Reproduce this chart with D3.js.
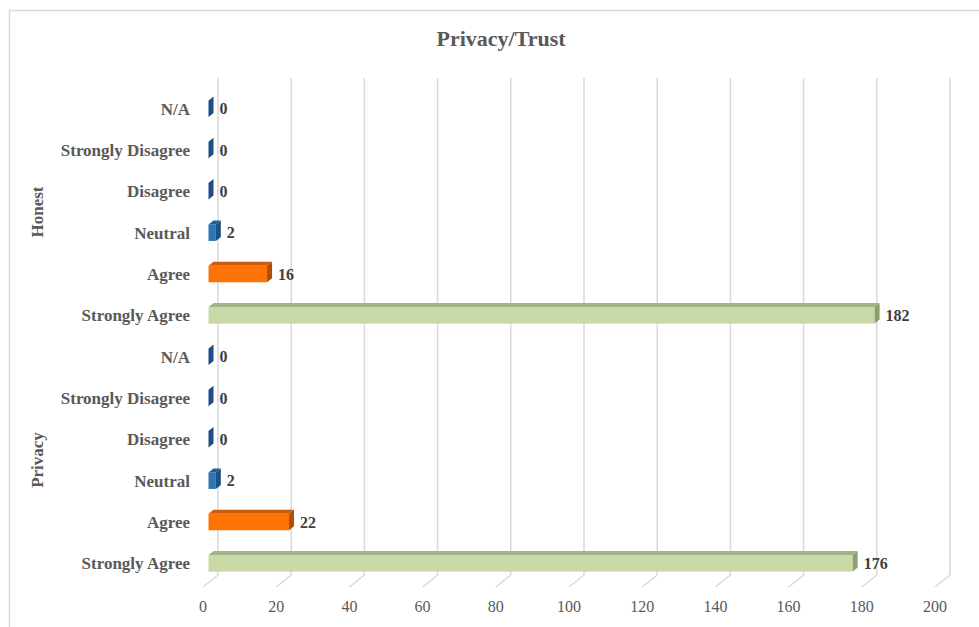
<!DOCTYPE html>
<html>
<head>
<meta charset="utf-8">
<script src="https://cdn.jsdelivr.net/npm/d3@7"></script>
<style>
  body { margin: 0; background: #fff; }
  text { font-family: "Liberation Serif", "Times New Roman", serif; }
</style>
</head>
<body>
<svg id="chart" width="979" height="627"></svg>
<script>
// answers, bottom to top within each group
const answers = ["Strongly Agree", "Agree", "Neutral", "Disagree", "Strongly Disagree", "N/A"];
const groups = ["Honest", "Privacy"]; // top group first
const honestCounts = [182, 16, 2, 0, 0, 0];
const privacyCounts = [176, 22, 2, 0, 0, 0];
const xTicks = [0, 20, 40, 60, 80, 100, 120, 140, 160, 180, 200];

// front / top / side colour per answer
const palette = {
    "Strongly Agree": ["#c8d8a6", "#a2b386", "#8d9e70"],
    "Agree": ["#fd7305", "#c95b0c", "#b14f09"],
    "Neutral": ["#2e75b6", "#215f99", "#1b4f82"],
    "Disagree": ["#1f4e85", "#1a4272", "#173d6b"],
    "Strongly Disagree": ["#1f4e85", "#1a4272", "#173d6b"],
    "N/A": ["#1f4e85", "#1a4272", "#173d6b"]
};

const counts = {Honest: honestCounts, Privacy: privacyCounts};
const rows = [];
groups.forEach(g => {
    answers.slice().reverse().forEach(a => {
        rows.push({key: g + "|" + a, group: g, answer: a, value: counts[g][answers.indexOf(a)]});
    });
});

const svg = d3.select("#chart");

// light border of the chart area
svg.append("rect")
    .attr("x", 9.5).attr("y", 10.5)
    .attr("width", 990).attr("height", 640)
    .attr("fill", "none")
    .attr("stroke", "#d9d9d9")
    .attr("stroke-width", 1.5);

const x = d3.scaleLinear().domain([0, 200]).range([203, 935]);
const y = d3.scaleBand().domain(rows.map(d => d.key)).range([88, 584])
    .paddingInner(0.6).paddingOuter(0.3);

// depth of the floor and of the bars
const floorDx = 15, floorDy = 12, frontY = 587, gridTop = 78;
const barOff = 5.5, bdx = 5, bdy = 4;

// back wall gridlines and floor ticks
const grid = svg.append("g");
grid.selectAll("line.v")
    .data(xTicks)
    .join("line")
    .attr("class", "v")
    .attr("x1", d => x(d) + floorDx).attr("x2", d => x(d) + floorDx)
    .attr("y1", gridTop).attr("y2", frontY - floorDy)
    .attr("stroke", "#d9d9d9").attr("stroke-width", 1.5);
grid.selectAll("line.f")
    .data(xTicks)
    .join("line")
    .attr("class", "f")
    .attr("x1", d => x(d)).attr("x2", d => x(d) + floorDx)
    .attr("y1", frontY).attr("y2", frontY - floorDy)
    .attr("stroke", "#d9d9d9").attr("stroke-width", 1.5);

svg.append("g").selectAll("text")
    .data(xTicks)
    .join("text")
    .attr("x", d => x(d))
    .attr("y", 612)
    .attr("text-anchor", "middle")
    .attr("font-size", 16)
    .attr("fill", "#595959")
    .text(d => d);

// 3d bars
const bars = svg.append("g").selectAll("g")
    .data(rows)
    .join("g");

bars.each(function(d) {
    const g = d3.select(this);
    const x0 = x(0) + barOff, x1 = x(d.value) + barOff;
    const y0 = y(d.key), h = y.bandwidth();
    const [cFront, cTop, cSide] = palette[d.answer];
    if (d.value > 0) {
        g.append("path")
            .attr("d", `M${x0},${y0}L${x0 + bdx},${y0 - bdy}H${x1 + bdx}L${x1},${y0}Z`)
            .attr("fill", cTop);
        g.append("rect")
            .attr("x", x0).attr("y", y0)
            .attr("width", x1 - x0).attr("height", h)
            .attr("fill", cFront);
    }
    g.append("path")
        .attr("d", `M${x1},${y0}L${x1 + bdx},${y0 - bdy}V${y0 + h - bdy}L${x1},${y0 + h}Z`)
        .attr("fill", d.value > 0 ? cSide : cFront);
    g.append("text")
        .attr("x", x1 + bdx + 6)
        .attr("y", y0 + h / 2)
        .attr("dy", "0.35em")
        .attr("font-size", 16)
        .attr("font-weight", "bold")
        .attr("fill", "#404040")
        .text(d.value);
});

// category labels
svg.append("g").selectAll("text")
    .data(rows)
    .join("text")
    .attr("x", 190)
    .attr("y", d => y(d.key) + y.bandwidth() / 2)
    .attr("dy", "0.35em")
    .attr("text-anchor", "end")
    .attr("font-size", 17)
    .attr("font-weight", "bold")
    .attr("fill", "#595959")
    .text(d => d.answer);

// group labels
svg.append("g").selectAll("text")
    .data(groups)
    .join("text")
    .attr("transform", g => {
        const keys = rows.filter(r => r.group === g).map(r => y(r.key));
        const cy = (d3.min(keys) + d3.max(keys) + y.bandwidth()) / 2;
        return `translate(37,${cy}) rotate(-90)`;
    })
    .attr("dy", "0.35em")
    .attr("text-anchor", "middle")
    .attr("font-size", 17)
    .attr("font-weight", "bold")
    .attr("fill", "#595959")
    .text(d => d);

svg.append("text")
    .attr("x", 501)
    .attr("y", 46)
    .attr("text-anchor", "middle")
    .attr("font-size", 22)
    .attr("font-weight", "bold")
    .attr("fill", "#595959")
    .text("Privacy/Trust");
</script>
</body>
</html>
